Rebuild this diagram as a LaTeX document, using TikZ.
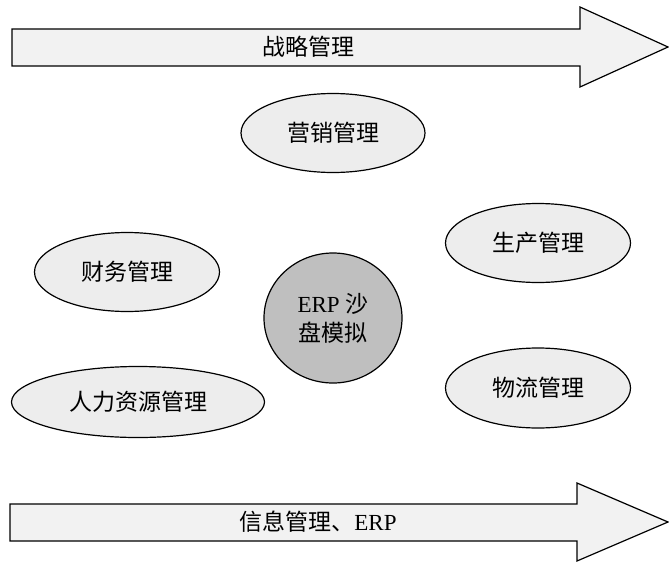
\documentclass[tikz,border=0pt]{standalone}
\usepackage{fontspec}
\setmainfont{Liberation Serif}
\newfontfamily\cjk{Noto Sans CJK SC}
\usetikzlibrary{shapes.geometric}

\begin{document}
\begin{tikzpicture}[x=1pt,y=-1pt,line width=1.2pt]
    \tikzstyle{bigarrow}=[draw=black,fill=black!5,line join=miter]
    \tikzstyle{field}=[ellipse,draw=black,fill=black!7,inner sep=0pt,font=\fontsize{23}{27}\selectfont\cjk]
    \tikzstyle{core}=[ellipse,draw=black,fill=black!25,inner sep=0pt,align=center,font=\fontsize{23}{29}\selectfont]
    \useasboundingbox (0,0) rectangle (669,562);

    % strategy arrow on top
    \draw[bigarrow] (12,29) -- (580,29) -- (580,7) -- (668,47) -- (580,87) -- (580,66) -- (12,66) -- cycle;
    \node[font=\fontsize{23}{27}\selectfont\cjk] (strat) at (308,47) {战略管理};

    % information arrow at the bottom
    \draw[bigarrow] (10,504) -- (577,504) -- (577,483) -- (668,522) -- (577,561) -- (577,541) -- (10,541) -- cycle;
    \node[font=\fontsize{23}{27}\selectfont] (info) at (318,522) {{\cjk 信息管理、}ERP};

    \foreach \name/\x/\y/\w/\h/\txt in {mkt/333/133/184/79/营销管理, prod/538/243/185/79/生产管理,
            fin/127/272/185/79/财务管理, log/538/388/185/80/物流管理, hr/138/402/253/71/人力资源管理}
        \node[field,minimum width=\w pt,minimum height=\h pt] (F-\name) at (\x,\y) {\txt};

    \node[core,minimum width=138pt,minimum height=130pt] (erp) at (333,318) {ERP {\cjk 沙}\\{\cjk 盘模拟}};
\end{tikzpicture}
\end{document}
